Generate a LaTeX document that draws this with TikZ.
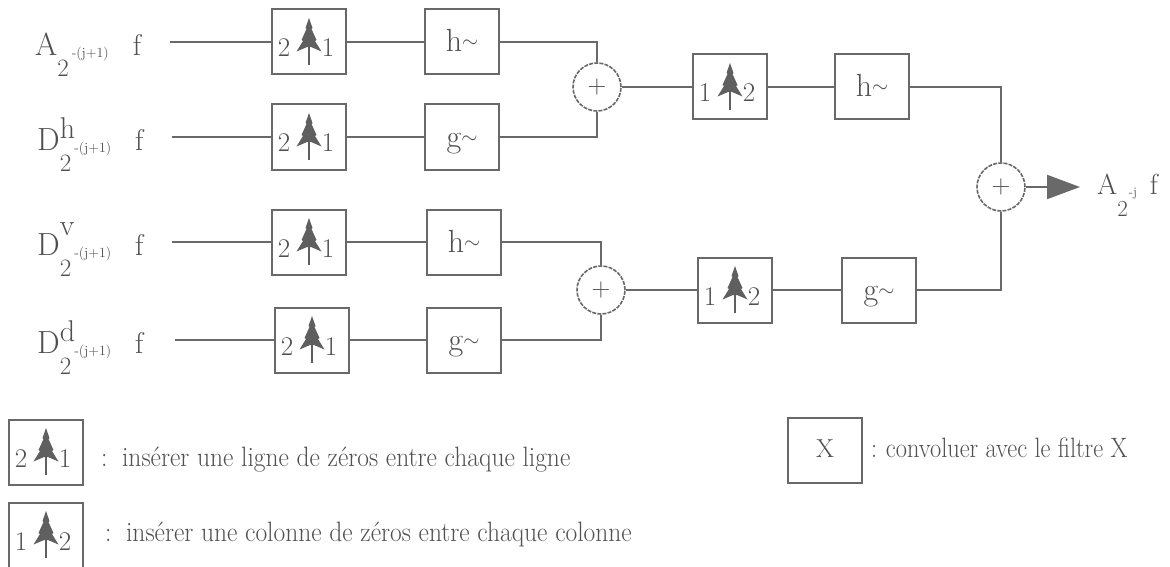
\documentclass[tikz,border=0pt]{standalone}
\usetikzlibrary{arrows.meta,calc}
\definecolor{tg}{RGB}{80,80,80}
\definecolor{lg}{RGB}{105,105,105}
\definecolor{ag}{RGB}{95,95,95}
\newcommand\fs[1]{\fontsize{#1}{#1}\selectfont}
\newcommand\updig[2]{\makebox[0pt]{\hspace{-50pt}#1}\makebox[0pt]{\hspace{38pt}#2}}
\newcommand\hg[1]{#1\raisebox{4pt}{\fs{20}$\sim$}}
\newcommand\inlab[3]{\fs{32}#1\rlap{\raisebox{#3}{\fs{30}#2}}\raisebox{-21pt}{\fs{25}2}\hspace{3pt}\raisebox{-2pt}{\fs{14}-(j+1)}\hspace{24pt}\fs{30}f}
\tikzset{
  wire/.style={draw=lg, line width=2},
  fbox/.style={draw=lg, line width=2, minimum width=74, minimum height=65, inner sep=0,
     text=tg, font=\fs{32}, text height=20pt, text depth=0pt},
  upbox/.style={draw=lg, line width=2, minimum width=74, minimum height=65, inner sep=0,
     text=tg, font=\fs{27}, text height=30pt, text depth=0pt},
  plus/.style={circle, draw=lg, line width=1.6, dash pattern=on 4pt off 1.2pt,
     minimum size=48, inner sep=0, text=tg, font=\fs{26}},
  lbl/.style={text=tg, inner sep=0, anchor=base west},
  pics/tree/.style={code={
    \fill[ag] (0,-24) -- (3.5,-14) -- (2.5,-13) -- (7.5,-2) -- (6,-1) -- (12.5,9.5) -- (2,5)
      -- (-2,5) -- (-12.5,9.5) -- (-6,-1) -- (-7.5,-2) -- (-2.5,-13) -- (-3.5,-14) -- cycle;
    \draw[ag, line width=1.8] (0,2) -- (0,23);
  }}
}
\begin{document}
\begin{tikzpicture}[x=1pt,y=-1pt]
\useasboundingbox (0,0) rectangle (1170,567);
\fill[white] (0,0) rectangle (1170,567);

% input labels
\node[lbl] (L1) at (35,56) {\inlab{A}{}{12pt}};
\node[lbl] (L2) at (37,150) {\inlab{D}{h}{12pt}};
\node[lbl] (L3) at (37,255) {\inlab{D}{v}{20pt}};
\node[lbl] (L4) at (37,353) {\inlab{D}{d}{12pt}};
\coordinate (i1) at (170,42);
\coordinate (i2) at (172,137);
\coordinate (i3) at (172,242);
\coordinate (i4) at (175,340);

% upsampling boxes (rows)
\node[upbox] (a1) at (309,42) {\updig{2}{1}};
\node[upbox] (a2) at (309,137) {\updig{2}{1}};
\node[upbox] (a3) at (309,242) {\updig{2}{1}};
\node[upbox] (a4) at (312,340) {\updig{2}{1}};
\foreach \n in {a1,a2,a3,a4} \pic at (\n) {tree};

% filters
\node[fbox] (b1) at (462,42) {\hg{h}};
\node[fbox] (b2) at (462,137) {\hg{g}};
\node[fbox] (b3) at (464,242) {\hg{h}};
\node[fbox] (b4) at (464,340) {\hg{g}};

% adders
\node[plus] (p1) at (597,87) {+};
\node[plus] (p2) at (601,290) {+};
\node[plus] (p3) at (1001,187) {+};

% column upsampling
\node[upbox] (c1) at (730,87) {\updig{1}{2}};
\node[upbox] (c2) at (735,290) {\updig{1}{2}};
\pic at (c1) {tree};
\pic at (c2) {tree};

% second filters
\node[fbox] (d1) at (872,87) {\hg{h}};
\node[fbox] (d2) at (879,290) {\hg{g}};

% output
\coordinate (tip) at (1080,187);
\node[lbl] (out) at (1097,194) {\fs{29}A\raisebox{-22pt}{\fs{23}2}\hspace{1pt}\raisebox{-2pt}{\fs{13}-j}\hspace{13pt}\fs{29}f};

% wires
\foreach \k in {1,2,3,4} \draw[wire] (i\k) -- (a\k) -- (b\k);
\draw[wire] (b1.east) -| (p1.north);
\draw[wire] (b2.east) -| (p1.south);
\draw[wire] (b3.east) -| (p2.north);
\draw[wire] (b4.east) -| (p2.south);
\draw[wire] (p1) -- (c1) -- (d1);
\draw[wire] (p2) -- (c2) -- (d2);
\draw[wire] (d1.east) -| (p3.north);
\draw[wire] (d2.east) -| (p3.south);
\draw[wire, -{Triangle[length=33pt,width=24pt]}, draw=lg, fill=ag] (p3) -- (tip);

% legend
\node[upbox] (k1) at (46,452) {\updig{2}{1}};
\pic at (k1) {tree};
\node[lbl] (t1) at (101,466) {\fs{28}\scalebox{0.91}[1]{:\hspace{16pt}insérer une ligne de zéros entre chaque ligne}};
\node[upbox] (k2) at (46,535) {\updig{1}{2}};
\pic at (k2) {tree};
\node[lbl] (t2) at (105,541) {\fs{28}\scalebox{0.91}[1]{:\hspace{16pt}insérer une colonne de zéros entre chaque colonne}};
\node[fbox, font=\fs{26}, text height=14pt] (k3) at (825,450) {X};
\node[lbl] (t3) at (871,457) {\fs{28}\scalebox{0.87}[1]{:\hspace{10pt}convoluer avec le filtre X}};
\end{tikzpicture}
\end{document}
